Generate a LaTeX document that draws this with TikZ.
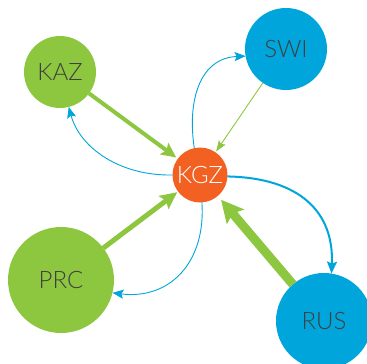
\documentclass[tikz,border=0pt]{standalone}
\usepackage{fontspec}
\setmainfont{Lato}[UprightFont=* Light]
\usetikzlibrary{arrows.meta}
\definecolor{cgreen}{HTML}{8DC63F}
\definecolor{cblue}{HTML}{00A6DB}
\definecolor{corange}{HTML}{F26122}
\definecolor{ctext}{HTML}{3F3F3F}
\begin{document}
\begin{tikzpicture}[x=1pt,y=-1pt,
  country/.style={circle,inner sep=0pt,outer sep=0pt,text=ctext,font=\fontsize{24}{26}\selectfont},
  greenc/.style={country,fill=cgreen},
  bluec/.style={country,fill=cblue},
  gflow/.style={draw=cgreen,line cap=butt},
  bflow/.style={draw=cblue,line width=0.9pt,-{Stealth[length=11pt,width=9pt,inset=2pt]}}
]
\useasboundingbox (0,0) rectangle (367,364);
\node[greenc,minimum size=72pt] (kaz) at (60,72) {KAZ};
\node[bluec,minimum size=82pt] (swi) at (286,49) {SWI};
\node[greenc,minimum size=106pt] (prc) at (61,280) {PRC};
\node[bluec,minimum size=96pt] (rus) at (324,321) {RUS};
\node[country,fill=corange,text=white,minimum size=55pt] (kgz) at (200,175) {KGZ};
% green inflows
\draw[gflow,line width=4pt,-{Stealth[length=15pt,width=14pt,inset=3pt]},shorten >=2pt] (kaz) -- (kgz);
\draw[gflow,line width=0.9pt,-{Stealth[length=11pt,width=8pt,inset=2pt]},shorten >=1pt] (swi) -- (kgz);
\draw[gflow,line width=5pt,-{Stealth[length=17pt,width=16pt,inset=3pt]},shorten >=1pt] (prc) -- (kgz);
\draw[gflow,line width=9pt,-{Stealth[length=22pt,width=22pt,inset=4pt]},shorten >=5pt] (rus) -- (kgz);
% blue outflows
\draw[bflow] (kgz.180) .. controls (120,176) and (80,148) .. (kaz.-76);
\draw[bflow] (kgz.102) .. controls (187,100) and (200,58) .. (swi.190);
\draw[bflow] (kgz.-86) .. controls (206,262) and (170,300) .. (prc.-14);
\draw[bflow,line width=2pt,-{Stealth[length=12pt,width=10pt,inset=2pt]}] (kgz.-3) .. controls (300,178) and (334,212) .. (rus.81);
\end{tikzpicture}
\end{document}
